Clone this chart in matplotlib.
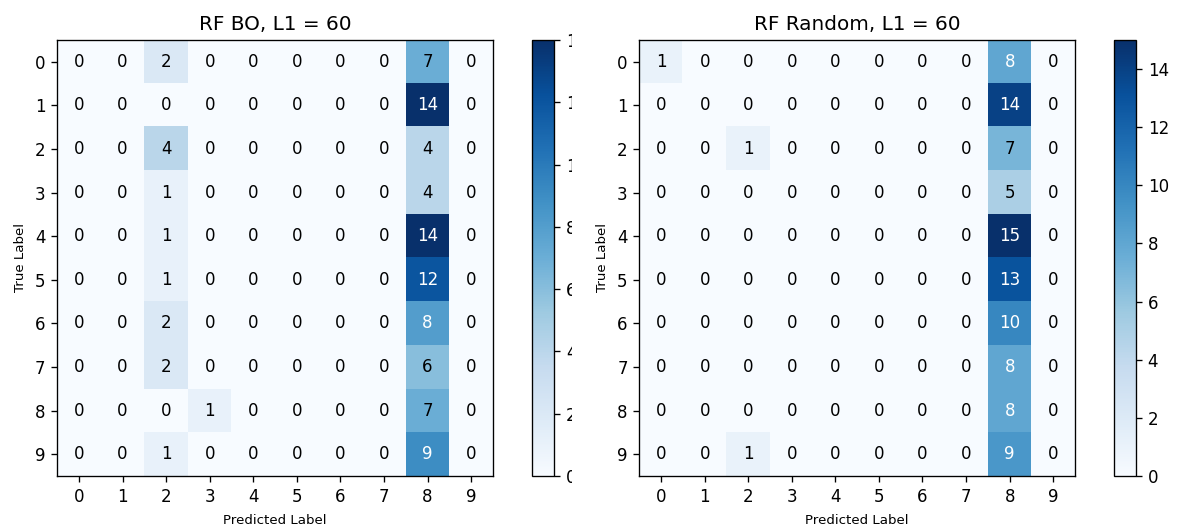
import numpy as np
import matplotlib as mpl
mpl.use('Agg')
import matplotlib.pyplot as plt
from matplotlib.patches import Rectangle

class_labels = [str(i) for i in range(10)]

# confusion matrices, rows = true class, columns = predicted class
cm_bo = [
    [0, 0, 2, 0, 0, 0, 0, 0, 7, 0],
    [0, 0, 0, 0, 0, 0, 0, 0, 14, 0],
    [0, 0, 4, 0, 0, 0, 0, 0, 4, 0],
    [0, 0, 1, 0, 0, 0, 0, 0, 4, 0],
    [0, 0, 1, 0, 0, 0, 0, 0, 14, 0],
    [0, 0, 1, 0, 0, 0, 0, 0, 12, 0],
    [0, 0, 2, 0, 0, 0, 0, 0, 8, 0],
    [0, 0, 2, 0, 0, 0, 0, 0, 6, 0],
    [0, 0, 0, 1, 0, 0, 0, 0, 7, 0],
    [0, 0, 1, 0, 0, 0, 0, 0, 9, 0],
]
cm_random = [
    [1, 0, 0, 0, 0, 0, 0, 0, 8, 0],
    [0, 0, 0, 0, 0, 0, 0, 0, 14, 0],
    [0, 0, 1, 0, 0, 0, 0, 0, 7, 0],
    [0, 0, 0, 0, 0, 0, 0, 0, 5, 0],
    [0, 0, 0, 0, 0, 0, 0, 0, 15, 0],
    [0, 0, 0, 0, 0, 0, 0, 0, 13, 0],
    [0, 0, 0, 0, 0, 0, 0, 0, 10, 0],
    [0, 0, 0, 0, 0, 0, 0, 0, 8, 0],
    [0, 0, 0, 0, 0, 0, 0, 0, 8, 0],
    [0, 0, 1, 0, 0, 0, 0, 0, 9, 0],
]
titles = ['RF BO, L1 = 60', 'RF Random, L1 = 60']

# everything is scaled up 1.2x from the defaults
plt.rcParams.update({
    'axes.linewidth': 0.96,
    'xtick.major.size': 4.2,
    'ytick.major.size': 4.2,
    'xtick.major.width': 0.96,
    'ytick.major.width': 0.96,
    'xtick.major.pad': 4.2,
    'ytick.major.pad': 4.2,
    'axes.titlepad': 7.2,
    'axes.labelpad': 6,
})

fig = plt.figure(figsize=(11.83, 5.31), dpi=100)

# [heatmap, colorbar] positions for each panel
layout = [
    ([0.0484, 0.1036, 0.3683, 0.8211], [0.4495, 0.1036, 0.0189, 0.8211]),
    ([0.5404, 0.1036, 0.3683, 0.8211], [0.9414, 0.1036, 0.0189, 0.8211]),
]


def plot_confusion_matrix(cm, title, ax_pos, cax_pos):
    cm = np.array(cm)
    ax = fig.add_axes(ax_pos)
    cax = fig.add_axes(cax_pos)
    im = ax.imshow(cm, interpolation='nearest', cmap=plt.cm.Blues, aspect='auto')
    cb = fig.colorbar(im, cax=cax, ticks=range(0, cm.max() + 1, 2))
    cb.ax.tick_params(labelsize=12)
    cb.outline.set_linewidth(0.96)
    ax.set_title(title, fontsize=14.4)
    ticks = np.arange(len(class_labels))
    ax.set_xticks(ticks)
    ax.set_xticklabels(class_labels, fontsize=12)
    ax.set_yticks(ticks)
    ax.set_yticklabels(class_labels, fontsize=12)
    thresh = cm.max() / 2.
    for i in range(cm.shape[0]):
        for j in range(cm.shape[1]):
            ax.text(j, i, format(cm[i, j], 'd'),
                    ha='center', va='center', fontsize=12,
                    color='white' if cm[i, j] > thresh else 'black')
    ax.set_ylabel('True Label', fontsize=9.6)
    ax.set_xlabel('Predicted Label', fontsize=9.6)
    return ax, cb


for cm, title, (ax_pos, cax_pos) in zip([cm_bo, cm_random], titles, layout):
    plot_confusion_matrix(cm, title, ax_pos, cax_pos)

# right panel sits over the tail of the left colorbar labels
fig.patches.append(Rectangle((0.4835, 0.0), 0.0155, 1.0, transform=fig.transFigure,
                             facecolor='white', edgecolor='none', zorder=5))

plt.savefig('out.png', dpi=100)
